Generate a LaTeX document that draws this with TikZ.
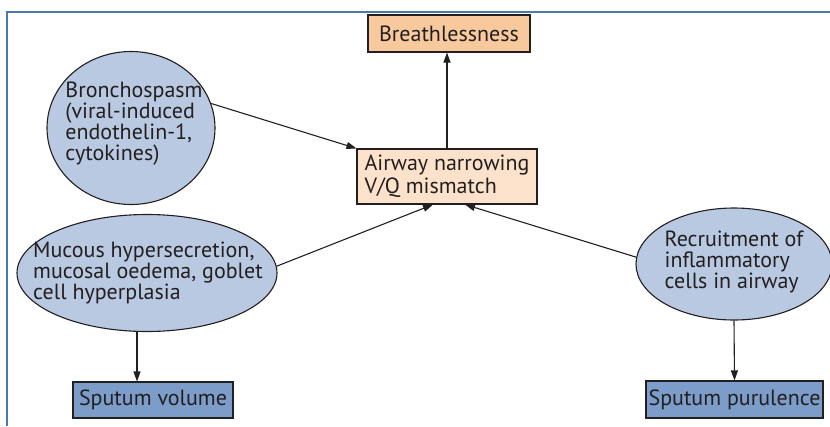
\documentclass[tikz,border=0pt]{standalone}
\usepackage{fontspec}
\setmainfont{PT Sans}
\usetikzlibrary{shapes.geometric,arrows.meta}
\definecolor{framec}{HTML}{4A7AAA}
\definecolor{txt}{HTML}{231F20}
\definecolor{peach}{HTML}{F8C99C}
\definecolor{lightpeach}{HTML}{FDE2CB}
\definecolor{ellfill}{HTML}{B9C9E1}
\definecolor{boxblue}{HTML}{7C9DC9}
\tikzset{
  base/.style={draw=txt, line width=1.1pt, text=txt, font=\fontsize{22}{21}\selectfont, inner sep=0pt},
  peachbox/.style={base, rectangle, fill=peach},
  airbox/.style={base, rectangle, fill=lightpeach, align=left, font=\fontsize{22}{23}\selectfont},
  ell/.style={base, ellipse, fill=ellfill},
  elltext/.style={text=txt, align=left, inner sep=0pt, font=\fontsize{22}{21}\selectfont},
  bluebox/.style={base, rectangle, fill=boxblue},
  arr/.style={draw=txt, line width=1.1pt, -{Triangle[length=10pt,width=7pt]}},
}
\begin{document}
\begin{tikzpicture}[x=1pt,y=-1pt]
\useasboundingbox (0,0) rectangle (830,426);
\draw[framec, line width=2pt] (7,426) -- (7,12) -- (831,12);
\node[peachbox, minimum width=162pt, minimum height=37pt] (breath) at (449,33.5) {Breathlessness};
\node[airbox, minimum width=180pt, minimum height=55pt] (air) at (447,176.5) {Airway narrowing\\V/Q mismatch};
\node[ell, minimum width=168pt, minimum height=153pt] (bron) at (131,128) {};
\node[elltext] (bront) at (134,124) {Bronchospasm\\(viral-induced\\endothelin-1,\\cytokines)};
\node[ell, minimum width=260pt, minimum height=117pt] (muc) at (147,273) {};
\node[elltext] (muct) at (148,273) {Mucous hypersecretion,\\mucosal oedema, goblet\\cell hyperplasia};
\node[ell, minimum width=196pt, minimum height=112pt] (rec) at (734,264) {};
\node[elltext] (rect) at (734,262) {Recruitment of\\inflammatory\\cells in airway};
\node[bluebox, minimum width=160pt, minimum height=36pt] (vol) at (153,400) {Sputum volume};
\node[bluebox, minimum width=177pt, minimum height=37pt] (pur) at (734.5,399.5) {Sputum purulence};
\draw[arr] (air.north) -- (air.north |- breath.south);
\draw[arr] (bron.17) -- (air.north west);
\draw[arr] (muc.3) -- ([xshift=-14pt]air.south);
\draw[arr] (rec.176) -- ([xshift=18pt]air.south);
\draw[arr] ([xshift=-10pt]muc.south) -- ([xshift=-10pt]muc.south |- vol.north);
\draw[arr] (rec.south) -- (pur.north);
\end{tikzpicture}
\end{document}
